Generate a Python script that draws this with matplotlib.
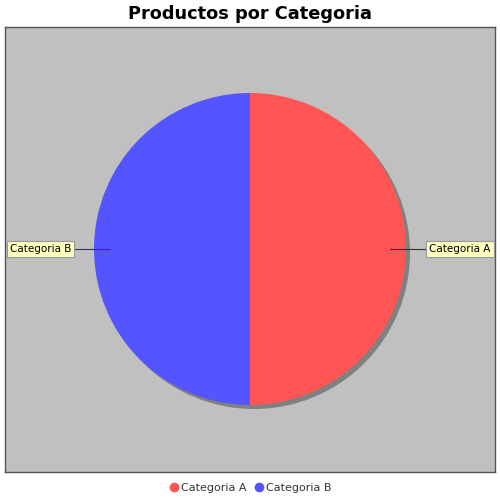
import matplotlib
matplotlib.use("Agg")
import matplotlib.pyplot as plt
from matplotlib.lines import Line2D
import numpy as np

categories = ["Categoria A", "Categoria B"]
values = [50, 50]
colors = ["#FF5555", "#5555FF"]

W, H = 500, 500
fig = plt.figure(figsize=(5, 5), dpi=100)
fig.patch.set_facecolor("white")

x0, x1, ytop, ybot = 5, 495, 27, 472
ax = fig.add_axes([x0 / W, (H - ybot) / H, (x1 - x0) / W, (ybot - ytop) / H])
ax.set_facecolor("#C0C0C0")
for s in ax.spines.values():
    s.set_color("#555555")
    s.set_linewidth(1.0)

cx, cy, r = 250, H - 249, 156
ax.pie(values, colors=["#808080"] * len(values), startangle=90, counterclock=False,
       center=(cx + 4, cy - 4), radius=r, frame=True,
       wedgeprops=dict(linewidth=0))
wedges, _ = ax.pie(values, colors=colors, startangle=90, counterclock=False,
                   center=(cx, cy), radius=r, frame=True,
                   wedgeprops=dict(linewidth=0))
ax.set_xlim(x0, x1)
ax.set_ylim(H - ybot, H - ytop)
ax.set_aspect("auto")
ax.set_xticks([])
ax.set_yticks([])

total = sum(values)
ang = 90.0
for cat, v in zip(categories, values):
    mid = ang - 360 * v / total / 2
    ang -= 360 * v / total
    rad = np.deg2rad(mid)
    dx, dy = np.cos(rad), np.sin(rad)
    side = 1 if dx >= 0 else -1
    px = cx + dx * (r - 16)
    py = cy + dy * (r - 16)
    ex = cx + side * (r + 21)
    ax.plot([px, ex], [py, py], color="#333366" if side < 0 else "#333333", lw=0.8)
    tx = ex + side * 2
    ax.text(tx, py, cat, ha="left" if side > 0 else "right", va="center",
            fontsize=7.5, family="DejaVu Sans",
            bbox=dict(boxstyle="square,pad=0.3", fc="#FFFFC0", ec="#999999", lw=0.8))

fig.text(0.5, 1 - 14 / H, "Productos por Categoria", ha="center", va="center",
         fontsize=12.8, fontweight="bold", family="DejaVu Sans")

handles = [Line2D([], [], marker="o", ls="", color=c, markersize=6) for c in colors]
fig.legend(handles, categories, loc="center", bbox_to_anchor=(0.5, 1 - 488 / H),
           ncol=2, frameon=False, fontsize=8, handletextpad=0.1, columnspacing=0.6,
           handlelength=1.0, labelcolor="#333333")

fig.savefig("out.png", dpi=100, facecolor="white")
